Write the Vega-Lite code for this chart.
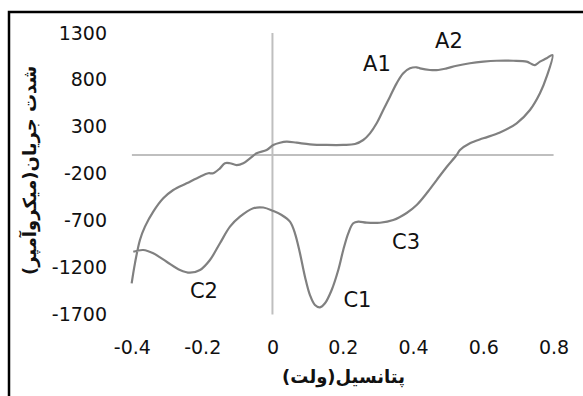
{
  "$schema": "https://vega.github.io/schema/vega-lite/v6.json",
  "width": 580,
  "height": 390,
  "autosize": {"type": "none"},
  "padding": {"left": 9, "top": 12, "right": 0, "bottom": 0},
  "background": "white",
  "config": {
    "view": {"stroke": "black", "strokeWidth": 2.5},
    "axis": {"grid": false, "domain": false, "ticks": false, "tickSize": 0, "labelPadding": 0,
      "labelFont": "DejaVu Sans", "labelFontSize": 19, "labelColor": "#111", "labelExpr": "datum.value + ''",
      "titleFont": "DejaVu Sans", "titleFontSize": 18, "titleFontWeight": "bold", "titleColor": "#111"}
  },
  "datasets": {
    "cv": [
      {"i":1,"v":-0.4007,"c":-1368},{"i":2,"v":-0.3913,"c":-1155},{"i":3,"v":-0.3771,"c":-906},{"i":4,"v":-0.3628,"c":-764},
      {"i":5,"v":-0.3392,"c":-604},{"i":6,"v":-0.3108,"c":-462},{"i":7,"v":-0.2823,"c":-373},{"i":8,"v":-0.2442,"c":-302},
      {"i":9,"v":-0.2063,"c":-231},{"i":10,"v":-0.1827,"c":-195},{"i":11,"v":-0.1685,"c":-195},{"i":12,"v":-0.1494,"c":-142},
      {"i":13,"v":-0.1352,"c":-88},{"i":14,"v":-0.1209,"c":-88},{"i":15,"v":-0.1019,"c":-107},{"i":16,"v":-0.0831,"c":-88},
      {"i":17,"v":-0.064,"c":-35},{"i":18,"v":-0.045,"c":18},{"i":19,"v":-0.0165,"c":53},{"i":20,"v":0.0023,"c":107},
      {"i":21,"v":0.0213,"c":131},{"i":22,"v":0.0404,"c":142},{"i":23,"v":0.0689,"c":131},{"i":24,"v":0.1067,"c":114},
      {"i":25,"v":0.1542,"c":107},{"i":26,"v":0.2015,"c":107},{"i":27,"v":0.2348,"c":117},{"i":28,"v":0.2584,"c":160},
      {"i":29,"v":0.2775,"c":231},{"i":30,"v":0.2965,"c":338},{"i":31,"v":0.3153,"c":480},{"i":32,"v":0.3344,"c":622},
      {"i":33,"v":0.3534,"c":764},{"i":34,"v":0.3722,"c":871},{"i":35,"v":0.3913,"c":924},{"i":36,"v":0.4104,"c":935},
      {"i":37,"v":0.4198,"c":924},{"i":38,"v":0.4482,"c":906},{"i":39,"v":0.4718,"c":906},{"i":40,"v":0.4957,"c":924},
      {"i":41,"v":0.5242,"c":952},{"i":42,"v":0.562,"c":978},{"i":43,"v":0.5999,"c":995},{"i":44,"v":0.638,"c":1005},
      {"i":45,"v":0.6853,"c":1005},{"i":46,"v":0.7234,"c":995},{"i":47,"v":0.7376,"c":970},{"i":48,"v":0.747,"c":959},
      {"i":49,"v":0.7612,"c":995},{"i":50,"v":0.7803,"c":1031},{"i":51,"v":0.7968,"c":1066},
      {"i":52,"v":0.7803,"c":835},{"i":53,"v":0.7612,"c":658},{"i":54,"v":0.7328,"c":480},{"i":55,"v":0.6949,"c":338},
      {"i":56,"v":0.6474,"c":240},{"i":57,"v":0.5999,"c":178},{"i":58,"v":0.562,"c":125},{"i":59,"v":0.5336,"c":53},
      {"i":60,"v":0.5242,"c":0},{"i":61,"v":0.4957,"c":-128},{"i":62,"v":0.4673,"c":-267},{"i":63,"v":0.4388,"c":-408},
      {"i":64,"v":0.4104,"c":-533},{"i":65,"v":0.3819,"c":-618},{"i":66,"v":0.3438,"c":-693},{"i":67,"v":0.3059,"c":-722},
      {"i":68,"v":0.2681,"c":-722},{"i":69,"v":0.2442,"c":-711},{"i":70,"v":0.2299,"c":-728},{"i":71,"v":0.2157,"c":-835},
      {"i":72,"v":0.2015,"c":-1013},{"i":73,"v":0.1873,"c":-1226},{"i":74,"v":0.1685,"c":-1439},{"i":75,"v":0.1494,"c":-1581},
      {"i":76,"v":0.1352,"c":-1624},{"i":77,"v":0.1209,"c":-1599},{"i":78,"v":0.1067,"c":-1493},{"i":79,"v":0.0925,"c":-1297},
      {"i":80,"v":0.0783,"c":-1048},{"i":81,"v":0.064,"c":-835},{"i":82,"v":0.0498,"c":-711},{"i":83,"v":0.0262,"c":-640},
      {"i":84,"v":0.0023,"c":-597},{"i":85,"v":-0.0262,"c":-560},{"i":86,"v":-0.0546,"c":-568},{"i":87,"v":-0.0925,"c":-658},
      {"i":88,"v":-0.1209,"c":-764},{"i":89,"v":-0.1494,"c":-941},{"i":90,"v":-0.1779,"c":-1119},{"i":91,"v":-0.2063,"c":-1226},
      {"i":92,"v":-0.2348,"c":-1255},{"i":93,"v":-0.2632,"c":-1226},{"i":94,"v":-0.3011,"c":-1138},{"i":95,"v":-0.3392,"c":-1048},
      {"i":96,"v":-0.3677,"c":-1013},{"i":97,"v":-0.3961,"c":-1031}
    ],
    "zero": [
      {"x1": 0, "x2": 0, "y1": -1700, "y2": 1300},
      {"x1": -0.4, "x2": 0.8, "y1": 0, "y2": 0}
    ],
    "labels": [
      {"t":"A1","v":0.2974,"c":959},
      {"t":"A2","v":0.5023,"c":1205},
      {"t":"C1","v":0.2419,"c":-1556},
      {"t":"C2","v":-0.195,"c":-1461},
      {"t":"C3","v":0.38,"c":-938}
    ]
  },
  "layer": [
    {
      "data": {"name": "zero"},
      "mark": {"type": "rule", "color": "#bfbfbf", "strokeWidth": 2},
      "encoding": {
        "x": {"field": "x1", "type": "quantitative",
          "scale": {"domain": [-0.74974, 0.9008], "nice": false, "zero": false},
          "axis": {"values": [-0.4, -0.2, 0, 0.2, 0.4, 0.6, 0.8], "offset": -64, "labelBaseline": "top",
            "title": "پتانسیل(ولت)", "titleX": 334, "titleY": 39, "titleBaseline": "middle"}},
        "x2": {"field": "x2"},
        "y": {"field": "y1", "type": "quantitative",
          "scale": {"domain": [-2633.3, 1524.5], "nice": false, "zero": false},
          "axis": {"values": [-1700, -1200, -700, -200, 300, 800, 1300], "offset": -97.5, "labelAlign": "right", "labelBaseline": "middle",
            "title": "شدت جریان(میکروآمپر)", "titleX": -76.5, "titleY": 158, "titleBaseline": "middle", "titleAngle": -90}},
        "y2": {"field": "y2"}
      }
    },
    {
      "data": {"name": "cv"},
      "mark": {"type": "line", "color": "#808080", "strokeWidth": 2.2, "interpolate": "catmull-rom"},
      "encoding": {
        "x": {"field": "v", "type": "quantitative"},
        "y": {"field": "c", "type": "quantitative"},
        "order": {"field": "i", "type": "quantitative"}
      }
    },
    {
      "data": {"name": "labels"},
      "mark": {"type": "text", "font": "DejaVu Sans", "fontSize": 21, "color": "#111", "align": "center", "baseline": "middle"},
      "encoding": {
        "x": {"field": "v", "type": "quantitative"},
        "y": {"field": "c", "type": "quantitative"},
        "text": {"field": "t"}
      }
    }
  ]
}
